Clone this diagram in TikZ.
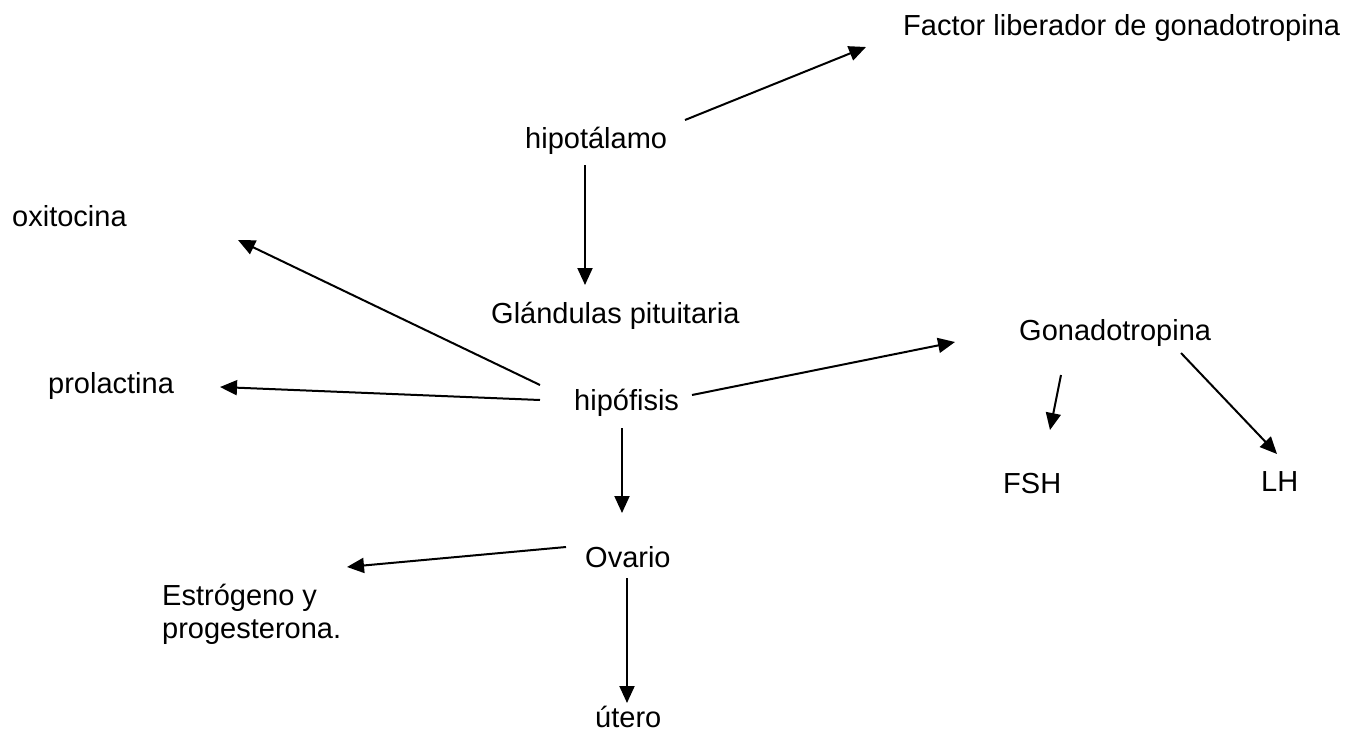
\documentclass[tikz,border=0pt]{standalone}
\usepackage{fontspec}
\setmainfont{Liberation Sans}
\usetikzlibrary{arrows.meta}
\begin{document}
\begin{tikzpicture}[x=1pt,y=-1pt,
  lbl/.style={anchor=base west,inner sep=0pt,font=\fontsize{29}{33}\selectfont},
  arr/.style={line width=2pt,-{Triangle[length=17pt,width=15pt]}}]
\useasboundingbox[fill=white] (0,0) rectangle (1353,734);
\node[lbl] (factor) at (903,35) {Factor liberador de gonadotropina};
\node[lbl] (hipot) at (525,148) {hipotálamo};
\node[lbl] (oxi) at (12,226) {oxitocina};
\node[lbl] (glan) at (491,323) {Glándulas pituitaria};
\node[lbl] (gona) at (1019,340) {Gonadotropina};
\node[lbl] (prol) at (48,393) {prolactina};
\node[lbl] (hipof) at (574,410) {hipófisis};
\node[lbl] (fsh) at (1003,493) {FSH};
\node[lbl] (lh) at (1261,491) {LH};
\node[lbl] (ova) at (585,567) {Ovario};
\node[lbl,align=left] (estro) at (162,638) {Estrógeno y\\progesterona.};
\node[lbl] (utero) at (595,727) {útero};
% connector end points
\coordinate (a1s) at (685,120); \coordinate (a1e) at (866,47);
\coordinate (a2s) at (585,165); \coordinate (a2e) at (585,285);
\coordinate (a3s) at (540,385); \coordinate (a3e) at (238,240);
\coordinate (a4s) at (540,400); \coordinate (a4e) at (220,387);
\coordinate (a5s) at (692,395); \coordinate (a5e) at (955,342);
\coordinate (a6s) at (622,428); \coordinate (a6e) at (622,513);
\coordinate (a7s) at (1061,375); \coordinate (a7e) at (1050,430);
\coordinate (a8s) at (1181,353); \coordinate (a8e) at (1277,454);
\coordinate (a9s) at (566,547); \coordinate (a9e) at (347,567);
\coordinate (a10s) at (627,578); \coordinate (a10e) at (627,703);
\draw[arr] (a1s) -- (a1e);
\draw[arr] (a2s) -- (a2e);
\draw[arr] (a3s) -- (a3e);
\draw[arr] (a4s) -- (a4e);
\draw[arr] (a5s) -- (a5e);
\draw[arr] (a6s) -- (a6e);
\draw[arr] (a7s) -- (a7e);
\draw[arr] (a8s) -- (a8e);
\draw[arr] (a9s) -- (a9e);
\draw[arr] (a10s) -- (a10e);
\end{tikzpicture}
\end{document}
